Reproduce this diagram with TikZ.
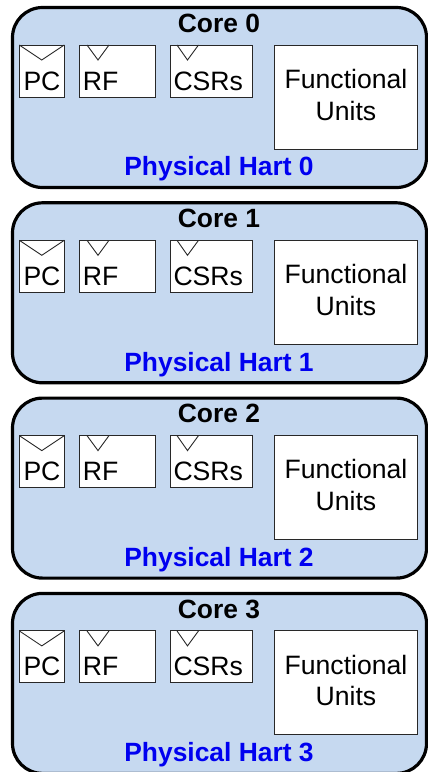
\documentclass[tikz,border=0pt]{standalone}
\usepackage{fontspec}
\setmainfont{Liberation Sans}
\usetikzlibrary{calc}
\definecolor{corefill}{RGB}{198,217,240}
\definecolor{hartblue}{RGB}{0,0,240}
\definecolor{boxline}{RGB}{40,40,40}
\tikzset{
  corebox/.style={draw=black, line width=3.2pt, fill=corefill, rounded corners=30pt,
    inner sep=0pt, outer sep=0pt, anchor=north west, minimum width=414pt, minimum height=180pt},
  unitbox/.style={draw=boxline, line width=1pt, fill=white, inner sep=0pt, outer sep=0pt,
    anchor=north west},
  notch/.style={draw=boxline, line width=0.9pt},
  regtext/.style={inner sep=0pt, anchor=base west, font=\fontsize{26.6}{31.7}\selectfont},
  futext/.style={inner sep=0pt, anchor=base, font=\fontsize{26.6}{31.7}\selectfont},
  coretitle/.style={inner sep=0pt, anchor=base, font=\fontsize{26.4}{30}\selectfont\bfseries},
  hartlabel/.style={inner sep=0pt, anchor=base, text=hartblue, font=\fontsize{26.4}{30}\selectfont\bfseries},
}
\begin{document}
\begin{tikzpicture}[x=1pt, y=-1pt]
  \useasboundingbox (0,0) rectangle (428,772);
  \foreach \k in {0,1,2,3} {
    \pgfmathsetmacro{\t}{7.5+195.3*\k}
    % core outline
    \node[corebox] (core\k) at (12.5,\t) {};
    \node[coretitle] (title\k) at (219,{\t+24.8}) {Core \k};
    % register blocks and the functional units block
    \node[unitbox, minimum width=45pt, minimum height=52pt] (pc\k) at (19.3,{\t+37.5}) {};
    \node[unitbox, minimum width=76pt, minimum height=52pt] (rf\k) at (79,{\t+37.5}) {};
    \node[unitbox, minimum width=82pt, minimum height=52pt] (csr\k) at (170,{\t+37.5}) {};
    \node[unitbox, minimum width=142.5pt, minimum height=104pt] (fu\k) at (274.5,{\t+37.5}) {};
    % notches on the register blocks
    \draw[notch] (pc\k.north west) -- ($(pc\k.north)+(0,15)$) -- (pc\k.north east);
    \draw[notch] ($(rf\k.north west)+(8,0)$) -- ($(rf\k.north west)+(19,15)$) -- ($(rf\k.north west)+(30,0)$);
    \draw[notch] ($(csr\k.north west)+(7,0)$) -- ($(csr\k.north west)+(17.5,15)$) -- ($(csr\k.north west)+(28.5,0)$);
    % block labels
    \node[regtext] (pct\k) at (23.3,{\t+82.5}) {PC};
    \node[regtext] (rft\k) at (82.7,{\t+82.5}) {RF};
    \node[regtext] (csrt\k) at (173.3,{\t+82.5}) {CSRs};
    \node[futext] (fut\k) at (346,{\t+80.8}) {Functional};
    \node[futext] (fuu\k) at (346,{\t+112.5}) {Units};
    % hart label
    \node[hartlabel] (hart\k) at (219,{\t+168.2}) {Physical Hart \k};
  }
\end{tikzpicture}
\end{document}
